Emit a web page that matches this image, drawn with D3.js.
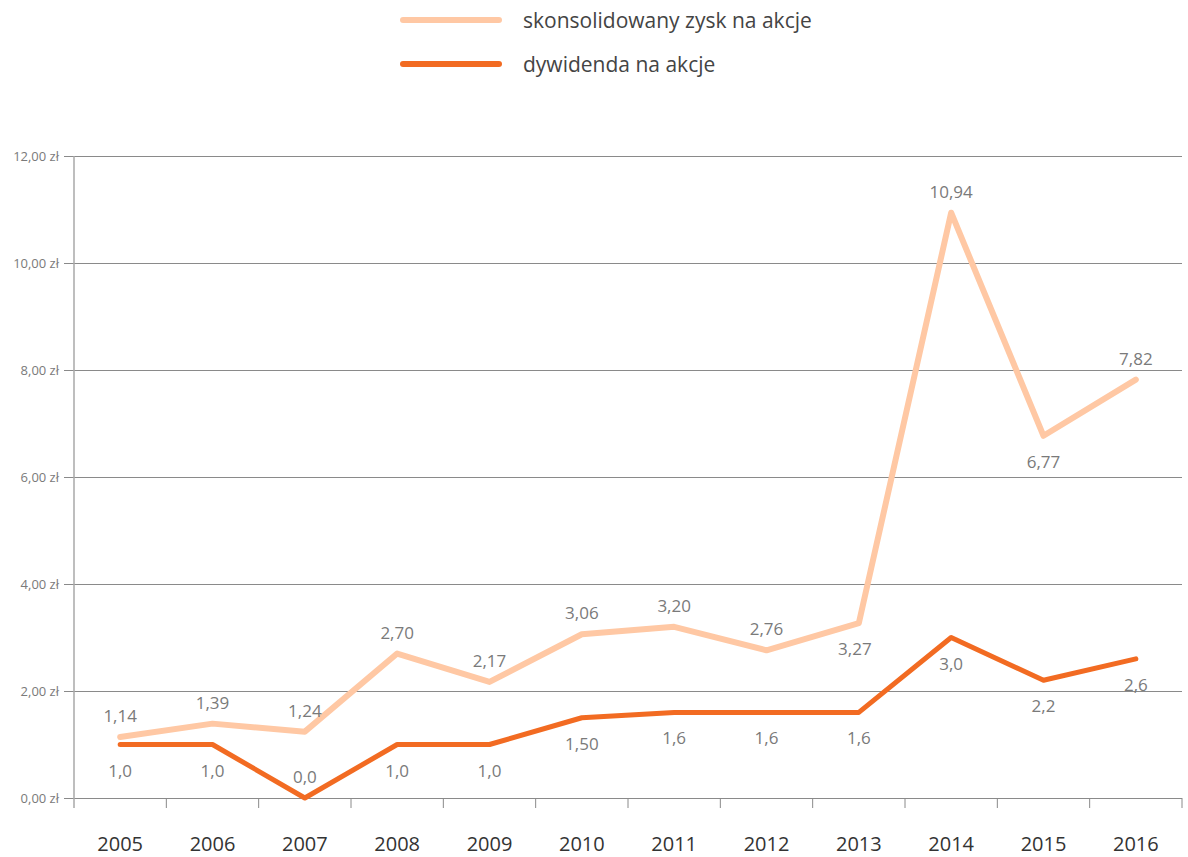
<!DOCTYPE html>
<html><head><meta charset="utf-8">
<script src="https://cdn.jsdelivr.net/npm/d3@7"></script>
<style>body{margin:0;background:#fff;font-family:"Open Sans","Noto Sans",sans-serif;}</style>
</head><body><svg id="c" width="1188" height="857"></svg>
<script>
const years = ["2005","2006","2007","2008","2009","2010","2011","2012","2013","2014","2015","2016"];
const eps = [1.14,1.39,1.24,2.70,2.17,3.06,3.20,2.76,3.27,10.94,6.77,7.82];
const epsLabels = ["1,14","1,39","1,24","2,70","2,17","3,06","3,20","2,76","3,27","10,94","6,77","7,82"];
const epsPlace = ["above","above","above","above","above","above","above","above","below","above","below","above"];
const dps = [1.0,1.0,0.0,1.0,1.0,1.5,1.6,1.6,1.6,3.0,2.2,2.6];
const dpsLabels = ["1,0","1,0","0,0","1,0","1,0","1,50","1,6","1,6","1,6","3,0","2,2","2,6"];
const dpsPlace = ["below","below","above","below","below","below","below","below","below","below","below","below"];
const yTicks = [0,2,4,6,8,10,12];
const seriesNames = ["skonsolidowany zysk na akcje","dywidenda na akcje"];
const colors = ["#FFC8A4","#F26B22"];

const svg = d3.select("#c");
const L=74, R=1182, T=156, B=798;
const x = d3.scaleBand().domain(years).range([L,R]);
const y = d3.scaleLinear().domain([0,12]).range([B,T]);

// gridlines + y labels
const fmt = v => d3.format(".2f")(v).replace(".",",")+" zł";
const ya = svg.append("g").attr("transform",`translate(${L},0)`)
  .call(d3.axisLeft(y).tickValues(yTicks).tickSize(10).tickPadding(5).tickFormat(fmt));
ya.select(".domain").remove();
ya.selectAll(".tick line").attr("stroke","#8a8a8a").attr("x2",R-L).attr("x1",-10);
ya.selectAll(".tick text").attr("fill","#7a7a7a").style("font-size","13px").style("font-family","'Open Sans',sans-serif").attr("dx","-0");
// vertical axis line
svg.append("line").attr("x1",L).attr("x2",L).attr("y1",T).attr("y2",B+10).attr("stroke","#a8a8a8").attr("stroke-width",1.5);

// x axis band boundary ticks
const bounds = years.map(d=>x(d)).concat([R]);
svg.append("g").selectAll("line").data(bounds.slice(1)).join("line")
  .attr("x1",d=>d).attr("x2",d=>d).attr("y1",B).attr("y2",B+10).attr("stroke","#8a8a8a");
svg.append("g").selectAll("text").data(years).join("text")
  .attr("x",d=>x(d)+x.bandwidth()/2).attr("y",851).attr("text-anchor","middle")
  .attr("fill","#333").style("font-size","20px").text(d=>d);

const cx = d => x(d)+x.bandwidth()/2;
const line = d3.line().x((d,i)=>cx(years[i])).y(d=>y(d));
svg.append("path").datum(eps).attr("d",line).attr("fill","none").attr("stroke",colors[0]).attr("stroke-width",6).attr("stroke-linejoin","round").attr("stroke-linecap","round");
svg.append("path").datum(dps).attr("d",line).attr("fill","none").attr("stroke",colors[1]).attr("stroke-width",5).attr("stroke-linejoin","round").attr("stroke-linecap","round");

function labels(vals, labs, place){
  svg.append("g").selectAll("text").data(vals).join("text")
    .attr("x",(d,i)=>cx(years[i]) + (labs[i]==="3,27"?-4:0))
    .attr("y",(d,i)=>y(d) + (place[i]==="above" ? -15 : 32))
    .attr("text-anchor","middle").attr("fill","#7a7a7a").style("font-size","17px")
    .text((d,i)=>labs[i]);
}
labels(eps, epsLabels, epsPlace);
labels(dps, dpsLabels, dpsPlace);

// legend
seriesNames.forEach((n,i)=>{
  const ly = 20 + i*44;
  svg.append("line").attr("x1",403).attr("x2",499).attr("y1",ly).attr("y2",ly)
    .attr("stroke",colors[i]).attr("stroke-width",6).attr("stroke-linecap","round");
  svg.append("text").attr("x",523).attr("y",ly+8).attr("fill","#444").style("font-size","21px").text(n);
});
</script></body></html>
